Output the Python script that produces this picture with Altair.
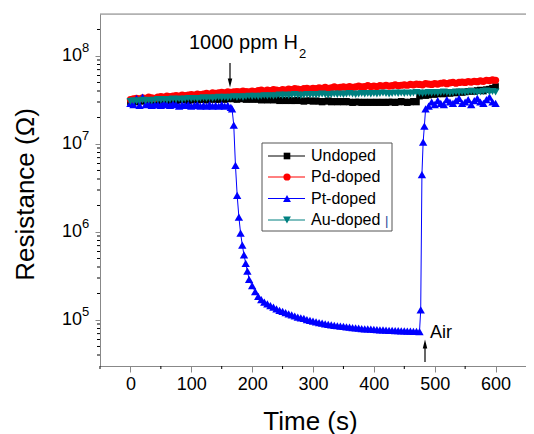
import altair as alt
import pandas as pd

# ---------------- data ----------------
TIME_FLAT = list(range(0, 601, 5))

# resistance in units of 1e7 Ohm
UNDOPED = [3.0, 3.05, 3.0, 3.1, 3.05, 3.1, 3.05, 3.1, 3.1, 3.05,
           3.1, 3.15, 3.1, 3.1, 3.15, 3.1, 3.15, 3.2, 3.15, 3.1,
           3.15, 3.2, 3.15, 3.2, 3.2, 3.15, 3.2, 3.25, 3.2, 3.2,
           3.25, 3.2, 3.25, 3.3, 3.25, 3.2, 3.3, 3.25, 3.2, 3.25,
           3.2, 3.25, 3.2, 3.15, 3.2, 3.15, 3.2, 3.15, 3.2, 3.1,
           3.15, 3.1, 3.15, 3.1, 3.1, 3.15, 3.1, 3.05, 3.1, 3.1,
           3.05, 3.1, 3.05, 3.0, 3.05, 3.1, 3.0, 3.05, 3.0, 3.05,
           3.0, 3.05, 3.0, 2.95, 3.0, 3.0, 2.95, 3.0, 2.95, 3.0,
           2.95, 3.0, 2.95, 3.0, 2.95, 3.0, 3.0, 2.95, 3.0, 3.05,
           3.0, 2.95, 3.0, 3.05, 3.0, 3.5, 3.6, 3.55, 3.6, 3.7,
           3.65, 3.7, 3.75, 3.7, 3.8, 3.75, 3.85, 3.8, 3.9, 3.85,
           3.9, 3.95, 4.0, 3.95, 4.05, 4.1, 4.0, 4.15, 4.2, 4.3,
           4.5]
PD_DOPED = [3.2, 3.25, 3.3, 3.25, 3.35, 3.3, 3.4, 3.35, 3.3, 3.4,
            3.45, 3.4, 3.5, 3.45, 3.5, 3.55, 3.5, 3.6, 3.55, 3.6,
            3.65, 3.6, 3.7, 3.65, 3.7, 3.75, 3.7, 3.8, 3.75, 3.8,
            3.85, 3.8, 3.9, 3.85, 3.9, 3.95, 3.9, 4.0, 3.95, 3.9,
            4.0, 3.95, 4.05, 4.1, 4.0, 4.1, 4.05, 4.15, 4.1, 4.05,
            4.15, 4.1, 4.2, 4.15, 4.25, 4.2, 4.15, 4.25, 4.3, 4.2,
            4.3, 4.25, 4.35, 4.3, 4.4, 4.3, 4.35, 4.45, 4.35, 4.4,
            4.45, 4.4, 4.5, 4.4, 4.45, 4.55, 4.45, 4.5, 4.6, 4.5,
            4.55, 4.5, 4.6, 4.55, 4.65, 4.55, 4.6, 4.7, 4.6, 4.65,
            4.7, 4.65, 4.75, 4.7, 4.8, 4.75, 4.7, 4.85, 4.8, 4.75,
            4.85, 4.8, 4.9, 4.95, 4.85, 4.95, 5.0, 4.9, 5.0, 5.05,
            5.0, 5.1, 5.05, 5.15, 5.1, 5.2, 5.15, 5.3, 5.25, 5.35,
            5.3]
AU_DOPED = [3.05, 3.1, 3.05, 3.1, 3.15, 3.1, 3.15, 3.1, 3.15, 3.2,
            3.15, 3.2, 3.15, 3.2, 3.25, 3.2, 3.25, 3.2, 3.25, 3.3,
            3.25, 3.3, 3.25, 3.3, 3.35, 3.3, 3.35, 3.3, 3.35, 3.4,
            3.35, 3.4, 3.35, 3.4, 3.45, 3.4, 3.45, 3.4, 3.45, 3.5,
            3.45, 3.5, 3.45, 3.5, 3.55, 3.5, 3.55, 3.5, 3.55, 3.6,
            3.55, 3.6, 3.55, 3.6, 3.65, 3.6, 3.55, 3.6, 3.65, 3.6,
            3.65, 3.6, 3.65, 3.7, 3.65, 3.6, 3.65, 3.7, 3.65, 3.7,
            3.65, 3.7, 3.75, 3.7, 3.65, 3.7, 3.75, 3.7, 3.75, 3.7,
            3.75, 3.7, 3.75, 3.8, 3.75, 3.7, 3.75, 3.8, 3.75, 3.8,
            3.75, 3.8, 3.75, 3.8, 3.85, 3.8, 3.75, 3.8, 3.85, 3.8,
            3.85, 3.8, 3.85, 3.9, 3.85, 3.8, 3.85, 3.9, 3.85, 3.9,
            3.85, 3.9, 3.95, 3.9, 3.85, 3.9, 3.95, 4.0, 3.9, 3.95,
            3.9]

# Pt-doped, in Ohm, by segment
PT_T_BASE = list(range(0, 166, 5))
PT_V_BASE = [2.9e7, 2.8e7, 3.3e7, 2.75e7, 3.4e7, 2.8e7, 2.85e7, 2.75e7, 2.8e7, 2.8e7,
             2.75e7, 2.9e7, 2.8e7, 2.75e7, 2.85e7, 2.8e7, 2.7e7, 2.8e7, 2.75e7, 2.8e7,
             2.7e7, 2.75e7, 2.8e7, 2.7e7, 2.75e7, 2.7e7, 2.8e7, 2.7e7, 2.75e7, 2.7e7,
             2.8e7, 2.7e7, 2.75e7, 2.6e7]
PT_T_DROP = [167, 169.8, 172.6, 175.4, 178.2, 181, 183.8, 186.6, 189.4, 192.2]
PT_V_DROP = [2.5e7, 1.64e7, 5.7e6, 2.6e6, 1.48e6, 9.7e5, 7.1e5, 5.5e5, 4.4e5, 3.6e5]
PT_T_DECAY = list(range(195, 476, 5))
PT_V_DECAY = [2.9e5, 2.45e5, 2.1e5, 1.85e5, 1.7e5, 1.6e5, 1.52e5, 1.46e5, 1.4e5, 1.34e5,
              1.29e5, 1.25e5, 1.21e5, 1.17e5, 1.14e5, 1.11e5, 1.08e5, 1.06e5, 1.04e5, 1.01e5,
              9.9e4, 9.7e4, 9.5e4, 9.35e4, 9.2e4, 9.05e4, 8.9e4, 8.8e4, 8.7e4, 8.6e4,
              8.5e4, 8.45e4, 8.35e4, 8.3e4, 8.2e4, 8.15e4, 8.1e4, 8.0e4, 7.95e4, 7.9e4,
              7.85e4, 7.8e4, 7.78e4, 7.74e4, 7.7e4, 7.66e4, 7.62e4, 7.6e4, 7.57e4, 7.55e4,
              7.52e4, 7.5e4, 7.48e4, 7.45e4, 7.42e4, 7.4e4, 7.38e4]
PT_T_RISE = [477, 479, 481, 483, 485]
PT_V_RISE = [1.3e5, 4.5e6, 1.05e7, 1.6e7, 2.5e7]
PT_T_AIR = list(range(490, 601, 5))
PT_V_AIR = [2.7e7, 3.0e7, 2.8e7, 3.1e7, 2.9e7, 2.8e7, 3.2e7, 3.0e7, 2.9e7, 3.1e7,
            3.3e7, 2.9e7, 3.0e7, 3.2e7, 2.8e7, 3.1e7, 3.3e7, 3.0e7, 2.9e7, 3.2e7,
            3.4e7, 3.0e7, 2.9e7]

SERIES = ["Undoped", "Pd-doped", "Pt-doped", "Au-doped"]
COLORS = ["#000000", "#ff0000", "#0000ff", "#008080"]
SHAPES = ["square", "circle", "triangle-up", "triangle-down"]
SIZES = [44, 52, 70, 62]

X_MAJOR = [0, 100, 200, 300, 400, 500, 600]
X_MINOR = [-50, 50, 150, 250, 350, 450, 550]
Y_MAJOR = [1e5, 1e6, 1e7, 1e8]
Y_EXP = ["5", "6", "7", "8"]
Y_MINOR = [4e4, 5e4, 6e4, 7e4, 8e4, 9e4,
           2e5, 3e5, 4e5, 5e5, 6e5, 7e5, 8e5, 9e5,
           2e6, 3e6, 4e6, 5e6, 6e6, 7e6, 8e6, 9e6,
           2e7, 3e7, 4e7, 5e7, 6e7, 7e7, 8e7, 9e7, 2e8]

# ---------------- tables ----------------
def flat(vals):
    return pd.DataFrame({"t": TIME_FLAT, "r": [v * 1e7 for v in vals]})

pt_t = PT_T_BASE + PT_T_DROP + PT_T_DECAY + PT_T_RISE + PT_T_AIR
pt_v = PT_V_BASE + PT_V_DROP + PT_V_DECAY + PT_V_RISE + PT_V_AIR
tables = {
    "Undoped": flat(UNDOPED),
    "Pd-doped": flat(PD_DOPED),
    "Pt-doped": pd.DataFrame({"t": pt_t[:len(pt_v)], "r": pt_v[:len(pt_t)]}),
    "Au-doped": flat(AU_DOPED),
}

W, H = 426, 352
FONT = "Liberation Sans"

X = alt.X("t:Q",
          scale=alt.Scale(domain=[-50, 650], nice=False, zero=False),
          axis=alt.Axis(values=X_MAJOR, title="Time (s)", format="d",
                        labelFontSize=18, labelPadding=3, tickSize=6,
                        titleFontSize=26, titleFontWeight="normal",
                        titleX=210, titleY=55, titleBaseline="middle",
                        titleAlign="center", grid=False))
Y = alt.Y("r:Q",
          scale=alt.Scale(type="log", domain=[3e4, 3e8], nice=False),
          axis=alt.Axis(values=Y_MAJOR, labels=False, title="Resistance (Ω)",
                        tickSize=5, titleFontSize=26, titleFontWeight="normal",
                        titleX=-75, titleY=180, titleBaseline="middle",
                        titleAlign="center", grid=False))

layers = []
for name, col, shp, sz in zip(SERIES, COLORS, SHAPES, SIZES):
    d = tables[name]
    layers.append(alt.Chart(d).mark_line(color=col, strokeWidth=1).encode(x=X, y=Y))
    layers.append(alt.Chart(d).mark_point(shape=shp, filled=True, size=sz,
                                          color=col, opacity=1).encode(x=X, y=Y))

# minor ticks
layers.append(alt.Chart(pd.DataFrame({"r": Y_MINOR})).mark_rule(color="black", strokeWidth=1)
              .encode(y=Y, x=alt.value(-3), x2=alt.value(0)))
layers.append(alt.Chart(pd.DataFrame({"t": X_MINOR})).mark_rule(color="black", strokeWidth=1)
              .encode(x=X, y=alt.value(H), y2=alt.value(H + 3)))

# y tick labels 10^n
ylab = pd.DataFrame({"r": Y_MAJOR, "e": Y_EXP})
layers.append(alt.Chart(ylab).mark_text(text="10", fontSize=18, align="right",
                                        baseline="middle", font=FONT)
              .encode(y=Y, x=alt.value(-18)))
layers.append(alt.Chart(ylab).mark_text(fontSize=13, align="left", baseline="middle",
                                        dy=-8, font=FONT)
              .encode(y=Y, x=alt.value(-18), text="e:N"))

# top frame line
layers.append(alt.Chart(pd.DataFrame({"a": [0]})).mark_rule(color="#888888", strokeWidth=1)
              .encode(x=alt.value(0), x2=alt.value(W), y=alt.value(0)))

# annotations
one = pd.DataFrame({"a": [0]})
layers.append(alt.Chart(one).mark_text(text="1000 ppm H", fontSize=20, align="left",
                                       baseline="middle", font=FONT)
              .encode(x=alt.value(89), y=alt.value(29)))
layers.append(alt.Chart(one).mark_text(text="2", fontSize=13, align="left",
                                       baseline="middle", font=FONT)
              .encode(x=alt.value(199), y=alt.value(40)))
layers.append(alt.Chart(one).mark_rule(color="black", strokeWidth=1.2)
              .encode(x=alt.value(130), y=alt.value(49), y2=alt.value(68)))
layers.append(alt.Chart(one).mark_point(shape="M-0.5,-1L0.5,-1L0,1Z", filled=True,
                                        size=80, color="black", opacity=1)
              .encode(x=alt.value(130), y=alt.value(69)))
layers.append(alt.Chart(one).mark_text(text="Air", fontSize=18, align="left",
                                       baseline="middle", font=FONT)
              .encode(x=alt.value(330), y=alt.value(319)))
layers.append(alt.Chart(one).mark_rule(color="black", strokeWidth=1.2)
              .encode(x=alt.value(325), y=alt.value(330), y2=alt.value(348)))
layers.append(alt.Chart(one).mark_point(shape="M-0.5,1L0.5,1L0,-1Z", filled=True,
                                        size=80, color="black", opacity=1)
              .encode(x=alt.value(325), y=alt.value(330)))

# legend
LX0, LX1, LY0, LY1 = 162, 292, 129, 217
ROWS = [142, 163, 184.5, 206]
LEG_SIZES = [44, 52, 62, 62]
layers.append(alt.Chart(one).mark_rect(fill="white", stroke="#555555", strokeWidth=1)
              .encode(x=alt.value(LX0), x2=alt.value(LX1), y=alt.value(LY0), y2=alt.value(LY1)))
for name, col, shp, sz, ry in zip(SERIES, COLORS, SHAPES, LEG_SIZES, ROWS):
    layers.append(alt.Chart(one).mark_rule(color=col, strokeWidth=1)
                  .encode(x=alt.value(168), x2=alt.value(205), y=alt.value(ry)))
    layers.append(alt.Chart(one).mark_point(shape=shp, filled=True, size=sz,
                                            color=col, opacity=1)
                  .encode(x=alt.value(187), y=alt.value(ry)))
    layers.append(alt.Chart(one).mark_text(text=name, fontSize=16, align="left",
                                           baseline="middle", font=FONT)
                  .encode(x=alt.value(211), y=alt.value(ry)))
layers.append(alt.Chart(one).mark_text(text="|", fontSize=13, align="left",
                                       baseline="middle", font=FONT, color="#2a4a9a")
              .encode(x=alt.value(285), y=alt.value(207)))

chart = alt.layer(*layers).properties(
    width=W, height=H,
    autosize=alt.AutoSizeParams(type="none"),
    padding={"left": 92, "top": 6, "right": 0, "bottom": 68},
).configure_view(stroke=None).configure_axis(
    domainColor="black", tickColor="black", labelColor="black", titleColor="black",
    labelFont=FONT, titleFont=FONT, domainWidth=1, tickWidth=1,
).configure(background="white")

chart.save("out.html", embed_options={"renderer": "svg", "actions": False})
